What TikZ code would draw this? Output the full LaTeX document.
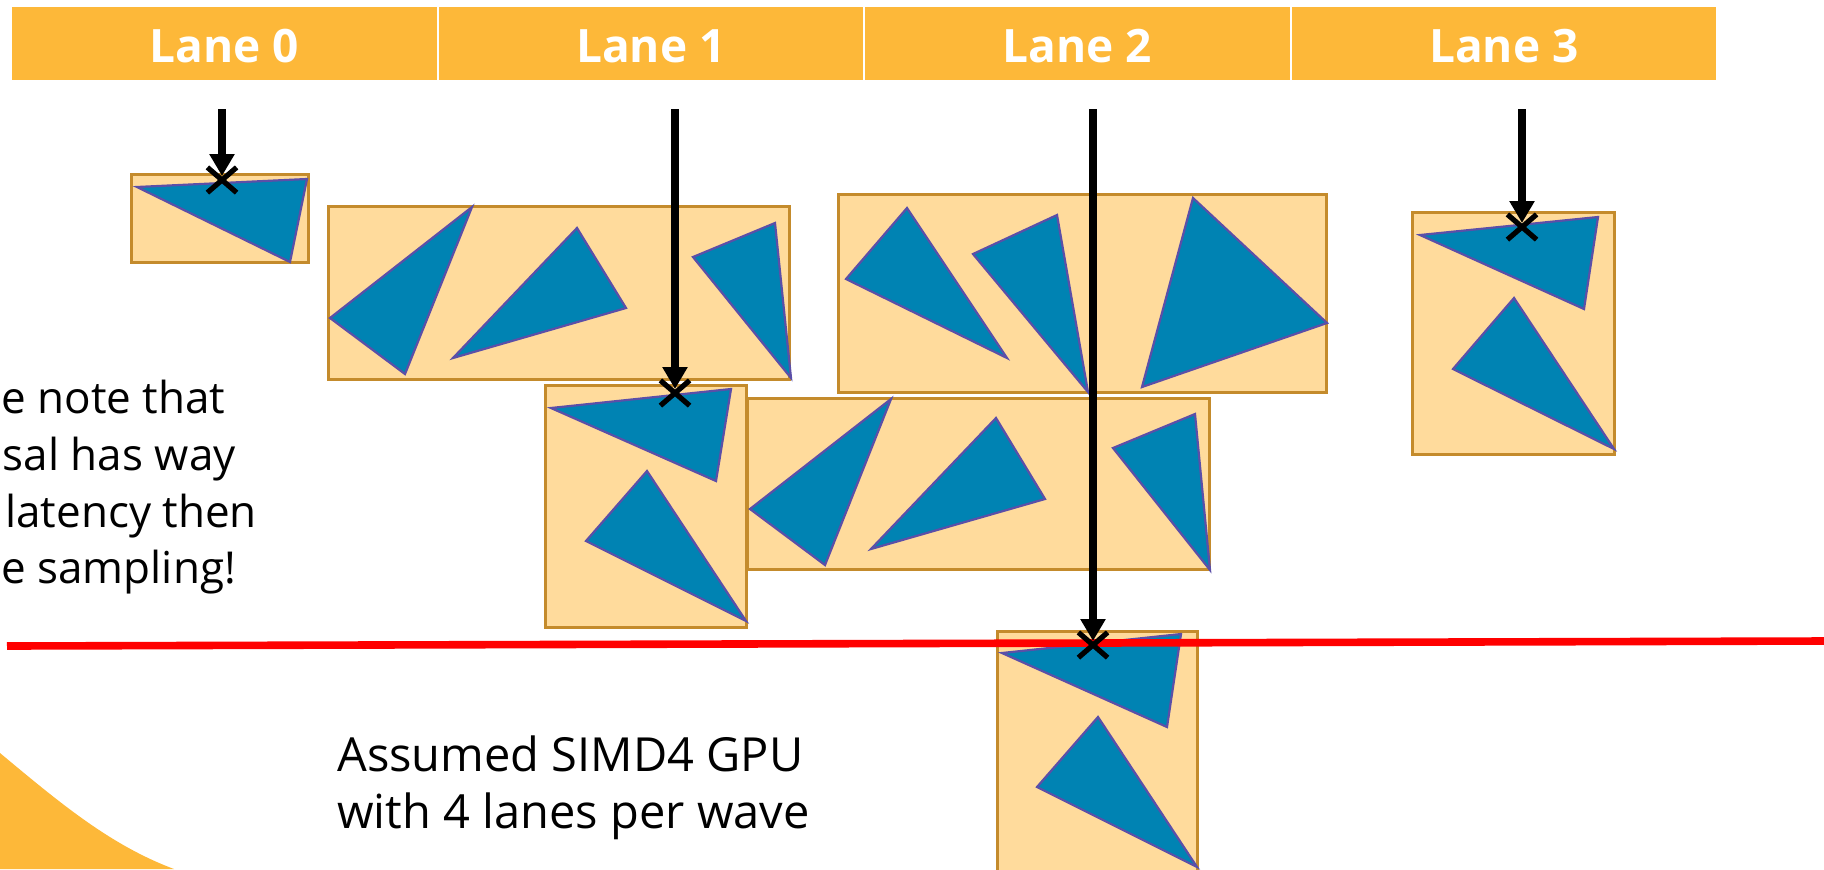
\documentclass[tikz,border=0pt]{standalone}
\usepackage{fontspec}
\setmainfont{Open Sans}
\usetikzlibrary{arrows.meta,shapes.misc}
\definecolor{laneorange}{HTML}{FDB839}
\definecolor{boxfill}{HTML}{FFDB9C}
\definecolor{boxline}{HTML}{C48B2C}
\definecolor{trifill}{HTML}{0083B3}
\definecolor{triline}{HTML}{5B4FA8}
\definecolor{redline}{HTML}{FF0000}
\begin{document}
\begin{tikzpicture}[x=0.5pt,y=-0.5pt,
  bbox/.style={fill=boxfill,draw=boxline,line width=1.5pt},
  tri/.style={fill=trifill,draw=triline,line width=1.1pt,line join=miter},
  lanecell/.style={fill=laneorange,draw=none,inner sep=0pt,minimum height=36.5pt,minimum width=212.25pt},
  lanelabel/.style={text=white,inner sep=0pt,anchor=base,font=\bfseries\fontsize{23}{27}\selectfont},
  ray/.style={line width=3.8pt,shorten >=2pt,-{Triangle[length=11pt,width=12pt]}},
  hit/.style={cross out,draw=black,line width=2.6pt,minimum width=12pt,minimum height=10pt,inner sep=0pt},
  body/.style={inner sep=0pt,font=\fontsize{23.5}{28}\selectfont},
  side/.style={inner sep=0pt,anchor=base west,font=\fontsize{22}{27}\selectfont}
]
\useasboundingbox (0,0) rectangle (1824,869);
\clip (0,0) rectangle (1824,869);

% lane header
\node[lanecell] (lane0) at (224.25,43.5) {};
\node[lanecell] (lane1) at (650.75,43.5) {};
\node[lanecell] (lane2) at (1077.25,43.5) {};
\node[lanecell] (lane3) at (1503.75,43.5) {};
\node[lanelabel] (lab0) at (224.25,62) {Lane 0};
\node[lanelabel] (lab1) at (650.75,62) {Lane 1};
\node[lanelabel] (lab2) at (1077.25,62) {Lane 2};
\node[lanelabel] (lab3) at (1503.75,62) {Lane 3};

% decorative corner
\fill[laneorange] (0,753) .. controls (60,803) and (110,845) .. (174,869) -- (0,869) -- cycle;

% texts
\node[side] (n1) at (1,413) {e note that};
\node[side] (n2) at (2.5,470) {sal has way};
\node[side] (n3) at (5,527) {latency then};
\node[side] (n4) at (1,583) {e sampling!};
\node[body,anchor=base west] (m1) at (337,771) {Assumed SIMD4 GPU};
\node[body,anchor=base west] (m2) at (337,828) {with 4 lanes per wave};

% box A (lane 0)
\draw[bbox] (131.5,174) rectangle (308,262);
\draw[tri] (137,187) -- (307,179) -- (290,262) -- cycle;

% box B
\draw[bbox] (328,206) rectangle (789,379);
\draw[tri] (472,207) -- (330,318) -- (405,374) -- cycle;
\draw[tri] (577,228) -- (453,358) -- (626,308) -- cycle;
\draw[tri] (775,223) -- (693,257) -- (791,378) -- cycle;

% box C
\draw[bbox] (838,194) rectangle (1326,392);
\draw[tri] (907,208) -- (846,279) -- (1007,358) -- cycle;
\draw[tri] (973,254) -- (1057,215) -- (1088,392) -- cycle;
\draw[tri] (1193,198) -- (1142,387) -- (1327,323) -- cycle;

% box D (lane 3)
\draw[bbox] (1412,212) rectangle (1614,454);
\draw[tri] (1420,235) -- (1598,217) -- (1584,309) -- cycle;
\draw[tri] (1514,298) -- (1453,369) -- (1614,449) -- cycle;

% box E
\draw[bbox] (545,385) rectangle (746,627);
\draw[tri] (551,408) -- (731,389) -- (716,481) -- cycle;
\draw[tri] (647,471) -- (586,541) -- (746,621) -- cycle;

% box F
\draw[bbox] (747,398) rectangle (1209,569);
\draw[tri] (891,399) -- (750,509) -- (825,565) -- cycle;
\draw[tri] (996,418) -- (871,549) -- (1045,499) -- cycle;
\draw[tri] (1195,414) -- (1113,448) -- (1210,570) -- cycle;

% box G
\draw[bbox] (997,631) rectangle (1197,880);
\draw[tri] (1002,653) -- (1181,634) -- (1167,727) -- cycle;
\draw[tri] (1098,717) -- (1037,787) -- (1197,867) -- cycle;

% red line
\draw[redline,line width=3.8pt] (7,646) -- (1824,641);

% rays
\coordinate (s0) at (222,109);
\coordinate (s1) at (675,109);
\coordinate (s2) at (1093,109);
\coordinate (s3) at (1522,109);
\node[hit] (x0) at (222,180) {};
\node[hit] (x1) at (675,393) {};
\node[hit] (x2) at (1093,645) {};
\node[hit] (x3) at (1522,227) {};
\draw[ray] (s0) -- (x0.center);
\draw[ray] (s1) -- (x1.center);
\draw[ray] (s2) -- (x2.center);
\draw[ray] (s3) -- (x3.center);
\end{tikzpicture}
\end{document}
